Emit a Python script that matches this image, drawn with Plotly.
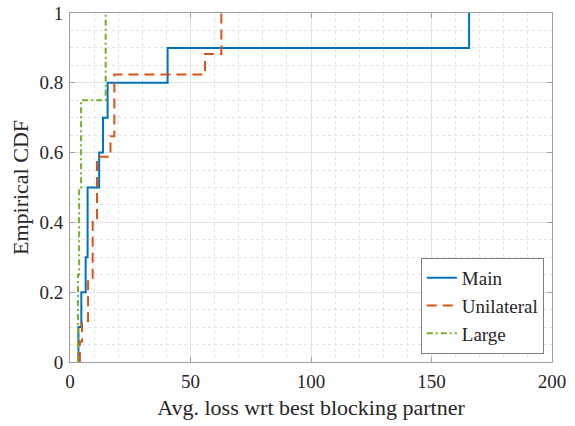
import numpy as np
import plotly.graph_objects as go

# per-instance avg. loss values
main_vals = [3.5, 4.7, 6.5, 7.3, 7.3, 12.1, 13.7, 15.6, 40.5, 165.6]
unilateral_vals = [4.1, 5.0, 7.5, 7.5, 9.4, 9.4, 9.4, 11.2, 11.2, 11.2,
                   16.8, 18.4, 18.4, 18.4, 56.0, 62.8, 62.8]
large_vals = [3.3, 3.8, 4.6, 14.8]

series = [
    ("Main", main_vals, "#0072BD", "solid"),
    ("Unilateral", unilateral_vals, "#D95319", "10px,6px"),
    ("Large", large_vals, "#77AC30", "6px,3px,2px,3px"),
]


def ecdf_steps(vals):
    xs, counts = np.unique(np.asarray(vals), return_counts=True)
    f = np.cumsum(counts) / counts.sum()
    # start at (min, 0) like matlab's stairs output
    return np.concatenate([[xs[0]], xs]), np.concatenate([[0.0], f])


fig = go.Figure()
for name, vals, color, dash in series:
    x, y = ecdf_steps(vals)
    fig.add_trace(go.Scatter(
        x=x, y=y, name=name, mode="lines",
        line=dict(color=color, width=2, dash=dash, shape="hv"),
    ))

axis_common = dict(
    showline=True, linecolor="#a0a0a0", linewidth=1, mirror="ticks",
    ticks="inside", ticklen=5, tickcolor="#a0a0a0",
    showgrid=True, gridcolor="#e3e3e3", gridwidth=1,
    zeroline=False, automargin=False,
    tickfont=dict(size=19, color="#262626"),
)

fig.update_xaxes(
    **axis_common, range=[0, 200], dtick=50, ticklabelstandoff=2,
    minor=dict(dtick=10, showgrid=True, griddash="dot", gridcolor="#e3e3e3", ticks=""),
    title=dict(text="Avg. loss wrt best blocking partner", font=dict(size=22, color="#262626"), standoff=8),
)
fig.update_yaxes(
    **axis_common, range=[0, 1], dtick=0.2, ticklabelstandoff=2,
    minor=dict(dtick=0.05, showgrid=True, griddash="dot", gridcolor="#e3e3e3", ticks=""),
    title=dict(text="Empirical CDF", font=dict(size=22, color="#262626"), standoff=4),
)

fig.update_layout(
    width=575, height=426,
    margin=dict(l=70, r=23, t=13, b=64),
    paper_bgcolor="white", plot_bgcolor="white",
    font=dict(family="Liberation Serif, Times New Roman, serif", color="#262626"),
    legend=dict(
        x=0.983, y=0.023, xanchor="right", yanchor="bottom",
        bordercolor="#7f7f7f", borderwidth=1, bgcolor="white",
        font=dict(size=19), tracegroupgap=0, itemwidth=30,
    ),
    showlegend=True,
)

# drop the default 8px body margin so the figure sits at the window origin
fig.write_html("out.html", config={"displayModeBar": False},
               post_script="document.body.style.margin = '0';")
